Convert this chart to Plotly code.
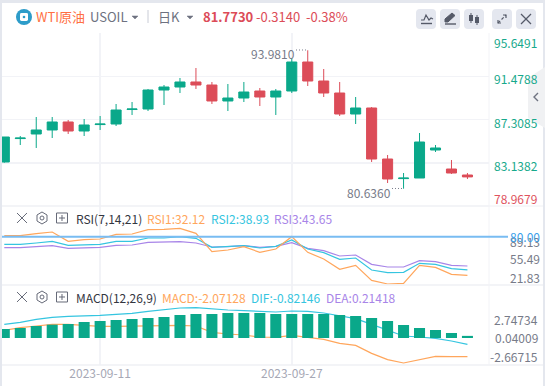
import plotly.graph_objects as go

W, H = 545, 386
FONT = "Noto Sans CJK SC"
GREEN, RED = "#0aa88a", "#dc4c58"
ORANGE, CYAN, PURPLE = "#ffa65c", "#35c5e0", "#a885e8"
GRID = "#f2f3f7"

dates = ["2023-09-01","2023-09-04","2023-09-05","2023-09-06","2023-09-07","2023-09-08",
         "2023-09-11","2023-09-12","2023-09-13","2023-09-14","2023-09-15",
         "2023-09-18","2023-09-19","2023-09-20","2023-09-21","2023-09-22",
         "2023-09-25","2023-09-26","2023-09-27","2023-09-28","2023-09-29",
         "2023-10-02","2023-10-03","2023-10-04","2023-10-05","2023-10-06",
         "2023-10-09","2023-10-10","2023-10-11","2023-10-12"]
date_ticks = ["2023-09-11", "2023-09-27"]

opens  = [83.211,85.47,85.911,86.297,87.068,86.200,86.82,86.875,88.27,88.321,90.153,90.442,90.925,90.635,89.093,89.382,90.057,89.478,90.057,92.853,91.021,89.864,87.839,88.418,83.500,81.61,81.668,84.368,82.536,81.957]
closes = [85.621,85.52,86.297,87.068,86.200,86.779,86.87,88.225,88.32,90.153,90.442,90.925,90.635,89.093,89.382,89.960,89.478,90.057,92.853,91.021,89.864,87.839,88.418,83.500,81.572,81.66,85.139,84.561,82.150,81.773]
highs  = [85.621,85.718,87.550,87.550,87.261,87.357,87.646,88.803,88.996,90.250,90.635,91.310,92.274,90.925,90.732,90.925,90.346,90.250,93.239,93.981,92.178,90.925,89.478,88.514,83.886,82.150,86.007,84.850,83.404,82.150]
lows   = [83.143,84.850,84.561,85.525,85.911,85.718,86.297,86.682,87.743,88.128,88.707,89.864,90.250,88.803,88.128,88.996,88.610,87.743,89.864,90.539,89.478,87.646,86.875,83.211,81.186,80.636,81.668,84.175,82.054,81.572]

rsi1 = [81.26,81.26,83.75,85.81,74.24,76.31,77.13,82.92,83.33,88.70,89.12,90.36,84.16,61.43,63.49,67.63,60.60,64.73,80.03,60.60,52.34,39.52,44.48,25.88,21.34,22.17,44.48,42.00,33.30,32.12]
rsi2 = [70.52,70.52,72.17,74.24,69.28,70.10,70.52,74.24,74.24,78.37,78.37,80.03,77.96,66.80,67.63,68.87,65.97,68.04,75.89,64.73,60.19,51.92,53.57,38.70,35.39,35.80,46.96,45.72,40.35,38.93]
rsi3 = [66.39,66.39,67.63,68.87,65.56,66.39,66.80,69.28,69.69,73.00,73.00,73.83,72.17,67.21,67.63,68.87,66.80,68.04,72.59,65.56,62.67,56.05,57.29,45.72,42.42,42.42,50.27,49.03,44.48,43.65]
rsi_level = 80.0

macd_line = [0.773,1.042,1.210,1.378,1.378,1.243,1.176,1.176,1.210,1.243,1.277,1.277,1.210,0.571,0.403,0.302,0.101,0.067,0.269,0.101,-0.134,-0.538,-0.739,-1.546,-2.184,-2.520,-2.184,-1.848,-1.882,-1.882]
dif_line = [1.378,1.579,1.882,2.083,2.184,2.218,2.285,2.386,2.486,2.688,2.890,3.024,3.058,2.923,2.822,2.755,2.688,2.621,2.722,2.688,2.520,2.251,1.949,1.378,0.773,0.202,0.101,-0.034,-0.302,-0.638]
dea_bars = [0.907,1.008,1.210,1.344,1.411,1.613,1.714,1.814,1.915,2.016,2.117,2.318,2.419,2.419,2.520,2.520,2.520,2.419,2.419,2.419,2.419,2.318,2.218,2.016,1.714,1.310,1.008,0.806,0.504,0.214]

price_ticks = [95.6491, 91.4788, 87.3085, 83.1382, 78.9679]
rsi_ticks = ["89.13", "55.49", "21.83"]
macd_ticks = ["2.74734", "0.04009", "-2.66715"]


def px(x):
    return x / W


def py(y):
    return 1 - y / H


def path(points, close=False):
    s = "M " + " L ".join(f"{px(x):.5f},{py(y):.5f}" for x, y in points)
    return s + (" Z" if close else "")


fig = go.Figure()
fig.add_trace(go.Candlestick(
    x=dates, open=opens, high=highs, low=lows, close=closes,
    xaxis="x", yaxis="y", whiskerwidth=0,
    increasing=dict(line=dict(color=GREEN, width=1), fillcolor=GREEN),
    decreasing=dict(line=dict(color=RED, width=1), fillcolor=RED),
    showlegend=False, hoverinfo="skip"))
for vals, col in ((rsi3, PURPLE), (rsi2, CYAN), (rsi1, ORANGE)):
    fig.add_trace(go.Scatter(x=dates, y=vals, mode="lines", xaxis="x2", yaxis="y2",
                             line=dict(color=col, width=1.2), showlegend=False, hoverinfo="skip"))
for vals, col in ((macd_line, ORANGE), (dif_line, CYAN)):
    fig.add_trace(go.Scatter(x=dates, y=vals, mode="lines", xaxis="x3", yaxis="y3",
                             line=dict(color=col, width=1.2), showlegend=False, hoverinfo="skip"))
fig.add_trace(go.Bar(x=dates, y=dea_bars, xaxis="x3", yaxis="y4", width=0.69,
                     marker=dict(color=GREEN, line=dict(width=0)), showlegend=False, hoverinfo="skip"))

xrange_ = [-0.144, 30.35]
xcommon = dict(type="category", categoryorder="array", categoryarray=dates, range=xrange_,
               domain=[px(2), px(489)], tickmode="array", tickvals=date_ticks, showgrid=True,
               gridcolor=GRID, gridwidth=1.5, zeroline=False, showline=False, ticks="", fixedrange=True)
ycommon = dict(side="right", showline=False, zeroline=False, ticks="", showticklabels=False, fixedrange=True)

shapes = []


def rect(x0, y0, x1, y1, color, line=None, layer="above"):
    shapes.append(dict(type="rect", xref="paper", yref="paper", x0=px(x0), x1=px(x1), y0=py(y1), y1=py(y0),
                       fillcolor=color, line=dict(width=0) if line is None else line, layer=layer))


def rrect(x0, y0, x1, y1, r, color):
    p = (f"M {px(x0+r):.5f},{py(y0):.5f} L {px(x1-r):.5f},{py(y0):.5f} Q {px(x1):.5f},{py(y0):.5f} {px(x1):.5f},{py(y0+r):.5f} "
         f"L {px(x1):.5f},{py(y1-r):.5f} Q {px(x1):.5f},{py(y1):.5f} {px(x1-r):.5f},{py(y1):.5f} "
         f"L {px(x0+r):.5f},{py(y1):.5f} Q {px(x0):.5f},{py(y1):.5f} {px(x0):.5f},{py(y1-r):.5f} "
         f"L {px(x0):.5f},{py(y0+r):.5f} Q {px(x0):.5f},{py(y0):.5f} {px(x0+r):.5f},{py(y0):.5f} Z")
    shapes.append(dict(type="path", xref="paper", yref="paper", path=p, fillcolor=color, line=dict(width=0), layer="above"))


def stroke(points, color="#6e7280", width=1.2, close=False, fill=None, dash=None):
    line = dict(color=color, width=width)
    if dash:
        line["dash"] = dash
    shapes.append(dict(type="path", xref="paper", yref="paper", path=path(points, close),
                       line=line, fillcolor=fill or "rgba(0,0,0,0)", layer="above"))


def circle(cx, cy, r, color, line=None):
    shapes.append(dict(type="circle", xref="paper", yref="paper", x0=px(cx - r), x1=px(cx + r),
                       y0=py(cy + r), y1=py(cy - r), fillcolor=color,
                       line=line or dict(width=0), layer="above"))


# page frame
rect(0, 0, 545, 3, "#e4e7ee")
rect(0, 0, 2, 386, "#e4e7ee")
rect(543, 0, 545, 386, "#e4e7ee")

# pane separators
for yy in (206, 285, 365):
    stroke([(2, yy), (489 if yy == 206 else 543, yy)], "#eff0f4", 1.5)
stroke([(489, 33), (489, 365)], "#f2f3f7", 1)
stroke([(489, 206), (543, 206)], "#eff0f4", 1)

# right side tab
stroke([(545, 67), (528, 78), (528, 118), (545, 128)], "#f0f1f3", 0, True, "#f0f1f3")
stroke([(538, 93), (534, 97), (538, 101)], "#6e7280", 1.4)

# logo
circle(24, 17, 8, "#2d9cc9")
rrect(20, 13, 28, 21, 1.5, "#ffffff")
circle(24, 17, 1.3, "#2d9cc9")

# header separator, carets
stroke([(148, 10), (148, 23)], "#c9ccd6", 1)
for cx in (135, 190):
    stroke([(cx - 3, 16), (cx + 3, 16), (cx, 19)], "#6e7280", 0.5, True, "#6e7280")

# toolbar buttons
for x0 in (416, 440, 464, 492, 516):
    rrect(x0, 9, x0 + 20, 29, 4, "#e4e7ef")
stroke([(421, 20), (424, 20), (426, 15), (429, 20), (431, 18), (433, 19)], "#555a68", 1.2)
stroke([(421, 23.5), (432, 23.5)], "#555a68", 1.4)
stroke([(445, 19), (452, 13), (455, 15.5), (448, 22), (445, 22)], "#555a68", 1, True, "#555a68")
stroke([(445, 24), (456, 24)], "#555a68", 1.4)
rect(469, 15, 473, 21, "#555a68")
rect(475, 17, 479, 23, "#555a68")
stroke([(471, 13), (471, 23)], "#555a68", 1)
stroke([(477, 15), (477, 25)], "#555a68", 1)
stroke([(498, 23), (506, 15)], "#555a68", 1.2, dash="3px,2px")
stroke([(503, 15), (506, 15), (506, 18)], "#555a68", 1.2)
stroke([(498, 20), (498, 23), (501, 23)], "#555a68", 1.2)
stroke([(521, 14), (531, 24)], "#555a68", 1.2)
stroke([(531, 14), (521, 24)], "#555a68", 1.2)

# pane header icons
for yy in (218, 297):
    stroke([(17, yy - 5), (27, yy + 5)], "#666a78", 1)
    stroke([(27, yy - 5), (17, yy + 5)], "#666a78", 1)
    stroke([(42, yy - 6), (47, yy - 3), (47, yy + 3), (42, yy + 6), (37, yy + 3), (37, yy - 3)], "#666a78", 1, True)
    circle(42, yy, 2, "rgba(0,0,0,0)", dict(color="#666a78", width=1))
    stroke([(56.5, yy - 5), (67.5, yy - 5), (67.5, yy + 5), (56.5, yy + 5)], "#666a78", 1, True)
    stroke([(59, yy), (65, yy)], "#666a78", 1)
    stroke([(62, yy - 3), (62, yy + 3)], "#666a78", 1)

# RSI reference level
shapes.append(dict(type="line", xref="paper", yref="y2", x0=px(2), x1=px(508), y0=rsi_level, y1=rsi_level,
                   line=dict(color="#79bcf2", width=2), layer="above"))

# high / low leaders
stroke([(296, 50), (307, 50)], "#7a7e8c", 1, dash="1px,2px")
stroke([(392, 188.5), (403, 188.5)], "#7a7e8c", 1, dash="1px,2px")

anns = []


def text(x, y, s, color, size=12, anchor="left", bold=False):
    if bold:
        s = f"<b>{s}</b>"
    anns.append(dict(xref="paper", yref="paper", x=px(x), y=py(y), text=s, showarrow=False,
                     xanchor=anchor, yanchor="middle", xshift=0, borderpad=0, borderwidth=0,
                     font=dict(family=FONT, size=size, color=color)))


text(36, 16, "WTI原油", "#ff7043", 13)
text(90, 16, "USOIL", "#6d7180", 13)
text(158, 16, "日K", "#6d7180", 13)
text(203, 16, "81.7730", RED, 13, bold=True)
text(256, 16, "-0.3140", RED, 13)
text(306, 16, "-0.38%", RED, 13)

price_y = [43, 78.7, 122.3, 165.7]
for val, yy in zip(price_ticks[:4], price_y):
    text(494, yy, f"{val:.4f}", "#17a98c", 12)
text(494, 198.7, f"{price_ticks[4]:.4f}", "#e0525e", 12)

text(251, 53, "93.9810", "#777b89", 12)
text(347, 192, "80.6360", "#777b89", 12)

text(76, 218, "RSI(7,14,21)", "#33363f", 12)
text(147, 218, "RSI1:32.12", ORANGE, 12)
text(211, 218, "RSI2:38.93", CYAN, 12)
text(274, 218, "RSI3:43.65", PURPLE, 12)

text(510, 241, rsi_ticks[0], "#777b89", 12)
text(510, 258.3, rsi_ticks[1], "#777b89", 12)
text(510, 277.3, rsi_ticks[2], "#777b89", 12)
text(510, 236.5, "80.00", "#3aa0ea", 12)

text(76, 297, "MACD(12,26,9)", "#33363f", 12)
text(162, 297, "MACD:-2.07128", ORANGE, 12)
text(251, 297, "DIF:-0.82146", CYAN, 12)
text(326, 297, "DEA:0.21418", PURPLE, 12)

text(538, 319.7, macd_ticks[0], "#777b89", 12, "right")
text(538, 337.7, macd_ticks[1], "#777b89", 12, "right")
text(538, 356.7, macd_ticks[2], "#777b89", 12, "right")

fig.update_layout(
    width=W, height=H, autosize=False,
    margin=dict(l=0, r=0, t=0, b=0),
    paper_bgcolor="#ffffff", plot_bgcolor="#ffffff",
    font=dict(family=FONT),
    hovermode=False, dragmode=False, barmode="overlay",
    boxmode="overlay", boxgap=0.37, boxgroupgap=0,
    shapes=shapes, annotations=anns,
    xaxis=dict(**xcommon, anchor="y", showticklabels=False, rangeslider=dict(visible=False)),
    xaxis2=dict(**xcommon, anchor="y2", showticklabels=False),
    xaxis3=dict(**xcommon, anchor="y3", showticklabels=True, ticktext=date_ticks,
                tickfont=dict(family=FONT, size=12, color="#a6a8b5")),
    yaxis=dict(**ycommon, domain=[py(206), py(33)], range=[78.9679, 95.6491], anchor="x",
               tickmode="array", tickvals=price_ticks, showgrid=True, gridcolor=GRID, gridwidth=1.5),
    yaxis2=dict(**ycommon, domain=[py(285), py(206)], range=[20.1, 118.05], anchor="x2", showgrid=False),
    yaxis3=dict(**ycommon, domain=[py(365), py(285)], range=[-2.72, 5.34], anchor="x3", showgrid=False),
    yaxis4=dict(**ycommon, domain=[py(365), py(285)], range=[-2.72, 5.34], anchor="x3", overlaying="y3", showgrid=False),
)

fig.write_html("out.html", config=dict(displayModeBar=False, staticPlot=True),
               post_script="document.body.style.margin='0';document.documentElement.style.overflow='hidden';")
